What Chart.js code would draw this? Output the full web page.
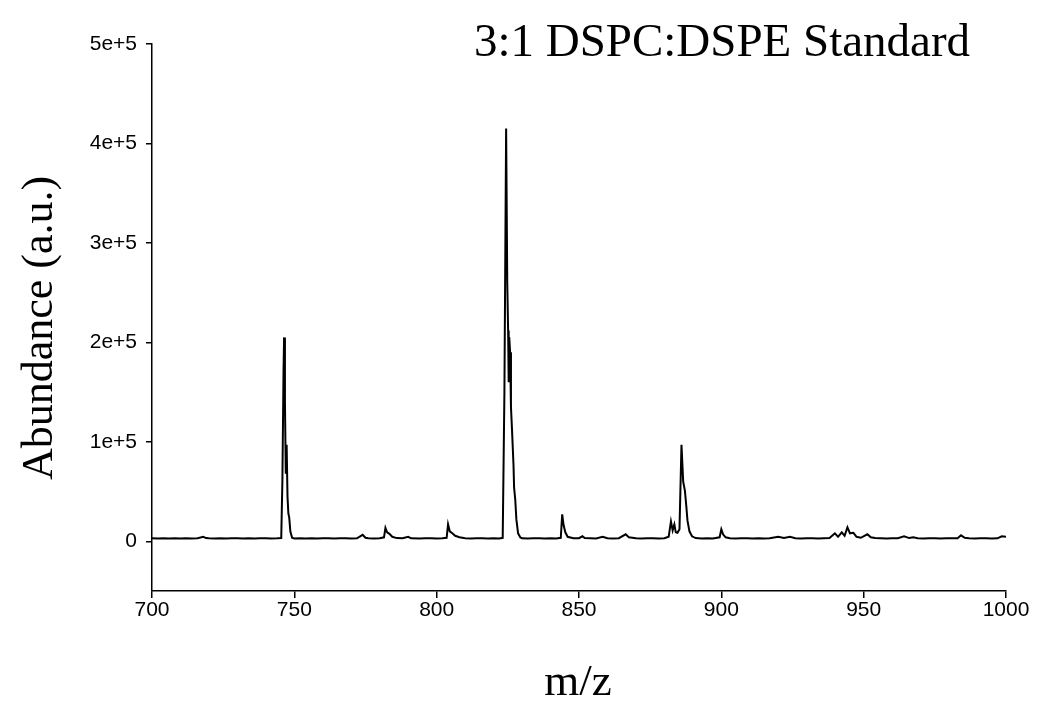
<!DOCTYPE html>
<html>
<head>
<meta charset="utf-8">
<script src="https://cdn.jsdelivr.net/npm/chart.js@4.4.1/dist/chart.umd.min.js"></script>
<style>
  body { margin: 0; background: #fff; }
  canvas { display: block; }
</style>
</head>
<body>
<canvas id="specChart" width="1037" height="709"></canvas>
<script>
// m/z values and abundance
const mz = [
  700, 702, 704, 706, 708, 710, 712, 714, 716, 718, 719, 720, 722, 724, 726, 728, 730, 732, 734, 736, 738, 740, 742, 744,
  745.4, 745.8, 746.2, 746.4, 746.7, 747.0, 747.3, 747.6, 747.9, 748.2, 748.6, 749.2,
  750, 752, 754, 756, 758, 760, 762, 764, 766, 768, 770, 772, 774, 775, 776, 778, 780,
  781.5, 782, 782.6, 783.4, 784.4, 786, 788, 790, 791, 794, 796, 798, 800, 802,
  803.5, 804, 804.6, 805.5, 806.5, 808, 810, 812, 814, 816, 818, 820, 822,
  823.2, 823.8, 824.4, 824.8, 825.1, 825.3, 825.5, 825.8, 826.1, 826.5, 827.0, 827.2, 827.6, 828.0, 828.6, 829.4,
  830, 832, 834, 836, 838, 840, 842, 843.6, 844.1, 844.6, 845.2, 846, 848, 850, 851.2, 852, 854, 856, 858.3,
  860, 862, 864, 866.4, 867.5, 870, 872, 874, 876, 878, 880,
  881.5, 882.3, 882.9, 883.5, 884.0, 884.6, 885.3, 886.0, 886.6, 887.2, 887.7, 888.1, 888.8, 889.7,
  891, 893, 895, 897, 899.4, 900.0, 900.6, 901.5, 903, 905, 907, 909, 911, 913, 915, 917, 920, 922, 924.1,
  926, 928, 930, 932, 934, 936, 938, 939.9, 941, 942.3, 943.3, 944.3, 945.2, 946.4, 947.5, 949, 951.3, 952.5,
  954, 956, 958, 960, 962, 964.2, 966, 967.4, 969, 971, 973, 975, 977, 979, 981, 983, 984.2, 985.5,
  987, 989, 991, 993, 995, 997, 998.5, 1000
];
const abundance = [
  3000, 2800, 3100, 2900, 3000, 2800, 3100, 2900, 3000, 4500, 3200, 3000, 2900, 3100, 2800, 3000, 3100, 2900, 3000, 2800, 3100, 3000, 2900, 3000,
  3200, 60000, 170000, 205000, 140000, 68000, 97000, 45000, 28000, 24000, 10000, 3500,
  2800, 3100, 2900, 3000, 2800, 3100, 3000, 2900, 3100, 3000, 2900, 3000, 6500, 3500, 3000, 2900, 3100,
  4000, 13500, 9000, 7500, 4500, 3200, 3000, 4500, 3000, 2900, 3000, 3100, 2900, 3000,
  3500, 17000, 10000, 8000, 5500, 4000, 3000, 2800, 3100, 3000, 2900, 3000, 2900,
  3500, 150000, 415000, 260000, 212000, 160000, 205000, 190000, 135000, 110000, 76000, 54000, 42000, 22000, 8000, 3800,
  3000, 2900, 3100, 3000, 2900, 3000, 2900, 3500, 27000, 16000, 9000, 4500, 3000, 3100, 5000, 3200, 3000, 2900, 4500,
  3000, 2900, 3100, 7000, 4000, 3000, 2900, 3100, 3000, 2900, 3000,
  4500, 20000, 11000, 17000, 9000, 8500, 12000, 97000, 60000, 51000, 35000, 21000, 10000, 5000,
  3200, 2900, 3000, 2900, 4000, 12000, 7000, 4000, 3000, 2900, 3100, 3000, 2900, 3000, 2900, 3000, 4500, 3200, 4500,
  3000, 2900, 3100, 3000, 2900, 3000, 3200, 8000, 4500, 9000, 5500, 14000, 8000, 8500, 4500, 3500, 7000, 4000,
  3200, 3000, 2900, 3100, 3000, 5000, 3200, 4000, 3000, 2900, 3100, 3000, 2900, 3000, 3100, 3000, 6000, 3500,
  3000, 2900, 3100, 3000, 2900, 3000, 5000, 4500
];
const yTicks = [0, 100000, 200000, 300000, 400000, 500000];
const yTickLabels = ['0', '1e+5', '2e+5', '3e+5', '4e+5', '5e+5'];
const xTicks = [700, 750, 800, 850, 900, 950, 1000];

const serif = "'Liberation Serif', 'Times New Roman', serif";
const sans = "'Liberation Sans', Arial, sans-serif";

const textPlugin = {
  id: 'texts',
  afterDraw(chart) {
    const c = chart.ctx;
    c.save();
    c.fillStyle = '#000';
    c.textAlign = 'center';
    c.textBaseline = 'alphabetic';
    c.font = '47px ' + serif;
    c.fillText('3:1 DSPC:DSPE Standard', 722, 56);
    c.font = '45px ' + serif;
    c.textBaseline = 'middle';
    c.fillText('m/z', 578, 683);
    c.font = '44px ' + serif;
    c.translate(40, 328);
    c.rotate(-Math.PI / 2);
    c.fillText('Abundance (a.u.)', 0, 0);
    c.restore();
  }
};

let specChart = new Chart(document.getElementById('specChart').getContext('2d'), {
  type: 'line',
  data: {
    datasets: [{
      data: mz.map((m, i) => ({ x: m, y: abundance[i] })),
      borderColor: '#000',
      borderWidth: 2,
      pointRadius: 0,
      tension: 0,
      fill: false
    }]
  },
  options: {
    responsive: false,
    animation: false,
    layout: { padding: { top: 44, right: 31, left: 0, bottom: 0 } },
    plugins: { legend: { display: false }, title: { display: false }, tooltip: { enabled: false } },
    scales: {
      x: {
        type: 'linear',
        min: 700,
        max: 1000,
        afterFit: s => { s.height = 118; },
        afterBuildTicks: s => { s.ticks = xTicks.map(v => ({ value: v })); },
        border: { display: true, color: '#000', width: 1.5 },
        grid: { drawOnChartArea: false, drawTicks: true, tickLength: 7, color: '#000', lineWidth: 1.5 },
        ticks: { color: '#000', font: { family: sans, size: 21 }, padding: 0, maxRotation: 0, callback: v => String(v) }
      },
      y: {
        type: 'linear',
        min: -50000,
        max: 500000,
        afterFit: s => { s.width = 152; },
        afterBuildTicks: s => { s.ticks = yTicks.map(v => ({ value: v })); },
        border: { display: true, color: '#000', width: 1.5 },
        grid: { drawOnChartArea: false, drawTicks: true, tickLength: 6, color: '#000', lineWidth: 1.5 },
        ticks: {
          color: '#000',
          font: { family: sans, size: 21 },
          padding: 9,
          callback: v => yTickLabels[yTicks.indexOf(v)]
        }
      }
    }
  },
  plugins: [textPlugin]
});
</script>
</body>
</html>
